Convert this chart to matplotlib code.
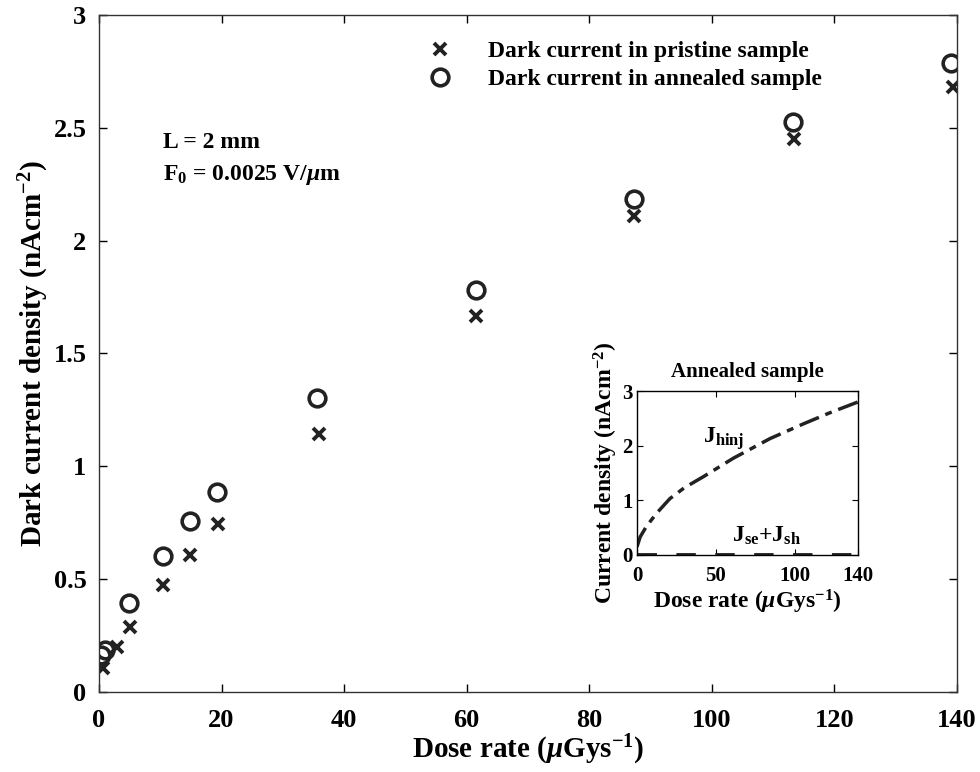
import numpy as np
import matplotlib
matplotlib.use('Agg')
import matplotlib.pyplot as plt

plt.rcParams['font.family'] = ['Liberation Serif', 'DejaVu Serif']
plt.rcParams['font.weight'] = 'bold'
plt.rcParams['mathtext.fontset'] = 'custom'
plt.rcParams['mathtext.rm'] = 'Liberation Serif:bold'
plt.rcParams['mathtext.it'] = 'Liberation Serif:italic:bold'
plt.rcParams['mathtext.bf'] = 'Liberation Serif:bold'
plt.rcParams['mathtext.default'] = 'regular'
plt.rcParams['axes.unicode_minus'] = False

# 主图数据
dose_pristine = [0.65, 2.9, 5.1, 10.4, 14.8, 19.4, 35.9, 61.5, 87.3, 113.4, 139.3]
j_pristine = [0.106, 0.20, 0.29, 0.474, 0.607, 0.744, 1.143, 1.666, 2.109, 2.45, 2.68]
dose_annealed = [0.3, 1.0, 4.9, 10.4, 14.8, 19.2, 35.6, 61.6, 87.3, 113.2, 139.1]
j_annealed = [0.164, 0.186, 0.394, 0.603, 0.758, 0.886, 1.303, 1.78, 2.184, 2.525, 2.787]

# 插图数据
inset_dose = [0, 2, 5.9, 12.3, 20.8, 30, 41.9, 61, 84.3, 105.5, 122, 140]
inset_jhinj = [0.15, 0.33, 0.52, 0.76, 1.03, 1.23, 1.43, 1.77, 2.13, 2.4, 2.6, 2.8]
inset_jse_dose = [0, 140]
inset_jse_sh = [0, 0]

fig = plt.figure(figsize=(9.8, 7.72), dpi=100)
ax = fig.add_axes([0.101, 0.1036, 0.8755, 0.877])

ax.plot(dose_pristine, j_pristine, 'x', color='#222222', markersize=8, mew=2.8,
        label='Dark current in pristine sample')
ax.plot(dose_annealed, j_annealed, 'o', color='#222222', markersize=12, mew=2.6,
        fillstyle='none', label='Dark current in annealed sample')

ax.set_xlim(0, 140)
ax.set_ylim(0, 3)
ax.set_xticks(np.arange(0, 141, 20))
ax.set_yticks([0, 0.5, 1, 1.5, 2, 2.5, 3])
ax.set_yticklabels(['0', '0.5', '1', '1.5', '2', '2.5', '3'])
ax.tick_params(direction='in', top=True, right=True, labelsize=19, length=6, width=1)
ax.tick_params(axis='x', pad=12)
ax.tick_params(axis='y', pad=9)
for s in ax.spines.values():
    s.set_linewidth(1)
    s.set_color('#333333')
ax.set_xlabel(r'Dose rate ($\mathit{\mu}$Gys$^{-1}$)', fontsize=21, fontweight='bold', labelpad=1)
ax.set_ylabel(r'Dark current density (nAcm$^{-2}$)', fontsize=21, fontweight='bold', labelpad=2)

ax.legend(loc='upper left', bbox_to_anchor=(0.352, 0.993), frameon=False, fontsize=17,
          handletextpad=1.3, labelspacing=0.25, handlelength=1.5)

ax.text(10.4, 2.41, 'L = 2 mm', fontsize=17, fontweight='bold')
ax.text(10.4, 2.27, r'F$_0$ = 0.0025 V/$\mathit{\mu}$m', fontsize=17, fontweight='bold')

# 插图
axi = fig.add_axes([0.65, 0.2811, 0.2255, 0.2124])
axi.plot(inset_dose, inset_jhinj, color='#222222', lw=2.5, dashes=(6, 2, 2, 2))
axi.plot(inset_jse_dose, inset_jse_sh, color='#222222', lw=3.5, dashes=(4, 4))
axi.set_xlim(0, 140)
axi.set_ylim(0, 3)
axi.set_xticks([0, 50, 100, 140])
axi.set_yticks([0, 1, 2, 3])
axi.tick_params(direction='in', top=True, right=True, labelsize=15, length=4, pad=3)
axi.tick_params(axis='x', pad=8)
for s in axi.spines.values():
    s.set_linewidth(1)
axi.set_title('Annealed sample', fontsize=15, fontweight='bold', pad=10)
axi.set_xlabel(r'Dose rate ($\mathit{\mu}$Gys$^{-1}$)', fontsize=17, fontweight='bold', labelpad=1)
axi.set_ylabel(r'Current density (nAcm$^{-2}$)', fontsize=17, fontweight='bold', labelpad=2)
axi.text(42, 2.05, r'J$_{\mathrm{hinj}}$', fontsize=17, fontweight='bold')
axi.text(60, 0.25, r'J$_{\mathrm{se}}$+J$_{\mathrm{sh}}$', fontsize=17, fontweight='bold')

fig.savefig('out.png', dpi=100)
